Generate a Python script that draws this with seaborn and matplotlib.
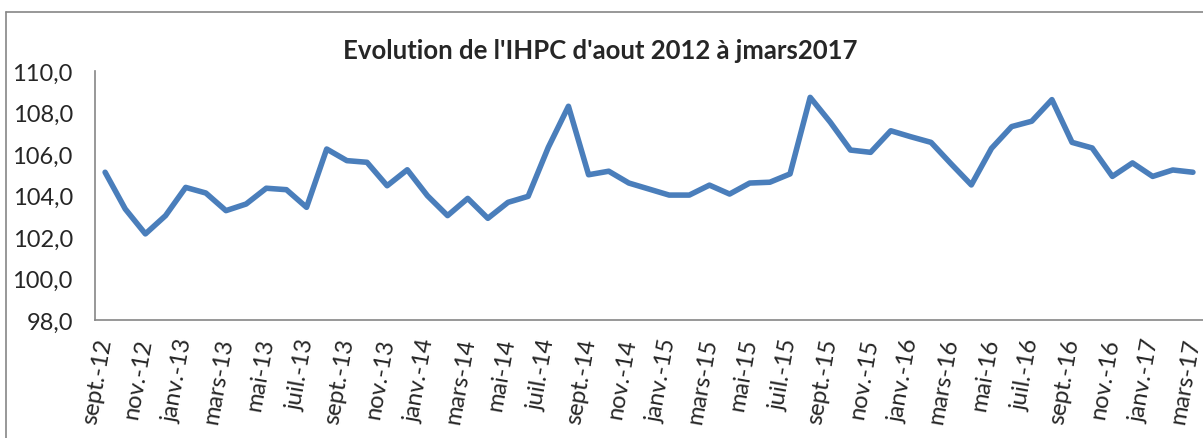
import matplotlib
matplotlib.use("Agg")
import matplotlib.pyplot as plt
import pandas as pd
import seaborn as sns
from matplotlib.lines import Line2D

# monthly IHPC index, sept. 2012 -> mars 2017
months = [
    "sept.-12", "oct.-12", "nov.-12", "déc.-12",
    "janv.-13", "févr.-13", "mars-13", "avr.-13", "mai-13", "juin-13",
    "juil.-13", "août-13", "sept.-13", "oct.-13", "nov.-13", "déc.-13",
    "janv.-14", "févr.-14", "mars-14", "avr.-14", "mai-14", "juin-14",
    "juil.-14", "août-14", "sept.-14", "oct.-14", "nov.-14", "déc.-14",
    "janv.-15", "févr.-15", "mars-15", "avr.-15", "mai-15", "juin-15",
    "juil.-15", "août-15", "sept.-15", "oct.-15", "nov.-15", "déc.-15",
    "janv.-16", "févr.-16", "mars-16", "avr.-16", "mai-16", "juin-16",
    "juil.-16", "août-16", "sept.-16", "oct.-16", "nov.-16", "déc.-16",
    "janv.-17", "févr.-17", "mars-17",
]
ihpc = [
    105.12, 103.35, 102.15, 103.03,
    104.39, 104.12, 103.27, 103.59, 104.35, 104.28,
    103.43, 106.24, 105.68, 105.60, 104.47, 105.24,
    103.99, 103.03, 103.86, 102.90, 103.67, 103.96,
    106.32, 108.30, 105.00, 105.17, 104.60, 104.31,
    104.02, 104.02, 104.50, 104.07, 104.60, 104.64,
    105.04, 108.73, 107.53, 106.19, 106.08, 107.12,
    106.83, 106.56, 105.52, 104.51, 106.27, 107.32,
    107.58, 108.62, 106.56, 106.29, 104.92, 105.57,
    104.92, 105.23, 105.12,
]
y_ticks = [98, 100, 102, 104, 106, 108, 110]

df = pd.DataFrame({"pos": range(len(months)), "ihpc": ihpc})

sns.set_style("white")
plt.rcParams["font.family"] = ["Lato", "DejaVu Sans"]

fig = plt.figure(figsize=(12.03, 4.39), dpi=100)
ax = fig.add_axes([0.079, 0.2688, 0.921, 0.5672])

sns.lineplot(data=df, x="pos", y="ihpc", ax=ax, color="#4a7ebb",
             linewidth=4, solid_joinstyle="round", solid_capstyle="round")

ax.set_xlim(-0.5, 54.5)
ax.set_ylim(98, 110)
ax.set_yticks(y_ticks)
ax.set_yticklabels([f"{v:.1f}".replace(".", ",") for v in y_ticks], fontsize=17)

# ticks every 2 categories, between categories; labels every other month
ax.set_xticks([i - 0.5 for i in range(0, len(months), 2)])
ax.set_xticks(list(range(0, len(months), 2)), minor=True)
ax.set_xticklabels([])
ax.set_xticklabels(months[::2], minor=True, rotation=80, fontsize=17,
                   ha="right", va="center", rotation_mode="anchor")
ax.tick_params(axis="x", which="minor", length=0, pad=13)
ax.tick_params(axis="x", which="major", length=6, width=1.2, color="#868686")
ax.tick_params(axis="y", length=6, width=1.2, color="#868686", pad=10)

ax.set_xlabel("")
ax.set_ylabel("")
for side in ["top", "right"]:
    ax.spines[side].set_visible(False)
for side in ["left", "bottom"]:
    ax.spines[side].set_color("#868686")
    ax.spines[side].set_linewidth(1.2)

fig.text(0.499, 0.884, "Evolution de l'IHPC d'aout 2012 à jmars2017",
         ha="center", va="center", fontsize=18.5, fontweight="bold")

# chart frame (cropped on the right and bottom)
fig.add_artist(Line2D([0.005, 0.005], [0, 0.9704], transform=fig.transFigure,
                      color="#868686", linewidth=1.2))
fig.add_artist(Line2D([0.005, 1], [0.9704, 0.9704], transform=fig.transFigure,
                      color="#868686", linewidth=1.2))

fig.savefig("out.png", dpi=100)
